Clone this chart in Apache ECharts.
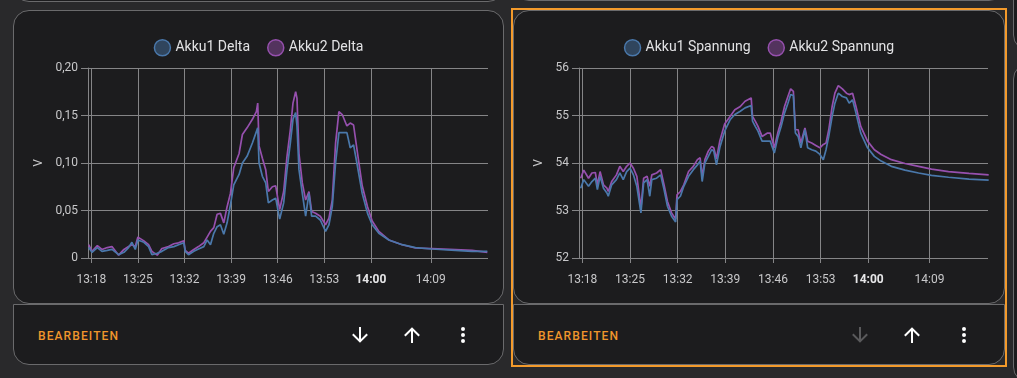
<!DOCTYPE html>
<html>
<head>
<meta charset="utf-8">
<script src="https://cdn.jsdelivr.net/npm/echarts@6/dist/echarts.min.js"></script>
<style>
body{margin:0;width:1017px;height:378px;background:#29292b;overflow:hidden;position:relative;font-family:Roboto,sans-serif}
.card{position:absolute;box-sizing:border-box;background:#1c1c1e;border:1px solid #6a6a6c;border-radius:16px}
.bar{position:absolute;box-sizing:border-box;background:#1c1c1e;border:1px solid #6a6a6c;border-radius:0 0 16px 16px}
.edit{position:absolute;left:24px;top:24px;color:#f0962c;font-size:12px;font-weight:500;letter-spacing:1.1px;line-height:14px}
.ico{position:absolute;top:18px;width:24px;height:24px}
.sel{position:absolute;left:511px;top:8px;width:496px;height:359px;box-sizing:border-box;border:2px solid #f39a2b}
.chart{position:absolute;height:293px}
</style>
</head>
<body>
<div class="card" style="left:13px;top:-100px;width:491px;height:102px"></div>
<div class="card" style="left:513px;top:-100px;width:492px;height:101px"></div>
<div class="card" style="left:1013px;top:-100px;width:200px;height:151px"></div>
<div class="card" style="left:1013px;top:63px;width:200px;height:320px"></div>

<div class="card" style="left:13px;top:10px;width:491px;height:294px"></div>
<div class="bar" style="left:13px;top:304px;width:491px;height:61px">
  <div class="edit">BEARBEITEN</div>
  <svg class="ico" style="left:334px" viewBox="0 0 24 24"><path fill="#ffffff" d="M11,4H13V16L18.5,10.5L19.92,11.92L12,19.84L4.08,11.92L5.5,10.5L11,16V4Z"/></svg>
  <svg class="ico" style="left:386px" viewBox="0 0 24 24"><path fill="#ffffff" d="M13,20H11V8L5.5,13.5L4.08,12.08L12,4.16L19.92,12.08L18.5,13.5L13,8V20Z"/></svg>
  <svg class="ico" style="left:437px" viewBox="0 0 24 24"><path fill="#ffffff" d="M12,16A2,2 0 0,1 14,18A2,2 0 0,1 12,20A2,2 0 0,1 10,18A2,2 0 0,1 12,16M12,10A2,2 0 0,1 14,12A2,2 0 0,1 12,14A2,2 0 0,1 10,12A2,2 0 0,1 12,10M12,4A2,2 0 0,1 14,6A2,2 0 0,1 12,8A2,2 0 0,1 10,6A2,2 0 0,1 12,4Z"/></svg>
</div>

<div class="sel"></div>
<div class="card" style="left:513px;top:10px;width:492px;height:294px"></div>
<div class="bar" style="left:513px;top:304px;width:492px;height:61px">
  <div class="edit">BEARBEITEN</div>
  <svg class="ico" style="left:334px" viewBox="0 0 24 24"><path fill="#5a5a5c" d="M11,4H13V16L18.5,10.5L19.92,11.92L12,19.84L4.08,11.92L5.5,10.5L11,16V4Z"/></svg>
  <svg class="ico" style="left:386px" viewBox="0 0 24 24"><path fill="#ffffff" d="M13,20H11V8L5.5,13.5L4.08,12.08L12,4.16L19.92,12.08L18.5,13.5L13,8V20Z"/></svg>
  <svg class="ico" style="left:438px" viewBox="0 0 24 24"><path fill="#ffffff" d="M12,16A2,2 0 0,1 14,18A2,2 0 0,1 12,20A2,2 0 0,1 10,18A2,2 0 0,1 12,16M12,10A2,2 0 0,1 14,12A2,2 0 0,1 12,14A2,2 0 0,1 10,12A2,2 0 0,1 12,10M12,4A2,2 0 0,1 14,6A2,2 0 0,1 12,8A2,2 0 0,1 10,6A2,2 0 0,1 12,4Z"/></svg>
</div>

<div id="deltaChart" class="chart" style="left:13px;top:10px;width:491px"></div>
<div id="voltChart" class="chart" style="left:513px;top:10px;width:492px"></div>

<script>
// minutes after 13:00
const xMin = 17.5;
const xMax = 77.6;
const timeTicks = [18, 25, 32, 39, 46, 53, 60, 69];

const deltaTimes = [17.6, 18.1, 18.9, 19.6, 20.4, 21.1, 22.1, 22.9, 23.6, 24.1, 24.6, 25.0, 25.9, 26.6, 27.1, 27.9,
    28.6, 29.6, 30.4, 31.1, 31.9, 32.1, 32.6, 33.4, 34.1, 34.9, 35.4, 35.9, 36.4, 36.9, 37.4, 37.9, 38.4, 38.9,
    39.4, 40.2, 40.7, 41.4, 42.2, 42.8, 43.0, 43.2, 43.7, 44.2, 44.6, 45.2, 45.7, 46.3, 46.9, 47.4, 47.9, 48.3,
    48.7, 48.9, 49.2, 49.7, 50.2, 50.7, 51.1, 51.7, 52.4, 53.2, 53.7, 54.2, 54.7, 55.2, 55.7, 56.4, 56.9, 57.4,
    57.9, 58.7, 59.5, 60.2, 61.2, 62.7, 64.7, 66.7, 69.2, 72.7, 75.2, 77.5];
const akku1Delta = [0.011, 0.006, 0.011, 0.007, 0.008, 0.009, 0.0035, 0.006, 0.011, 0.0165, 0.009, 0.019, 0.0165, 0.012, 0.0035, 0.005,
    0.007, 0.011, 0.012, 0.014, 0.016, 0.007, 0.0035, 0.007, 0.0095, 0.012, 0.019, 0.014, 0.026, 0.033, 0.035, 0.025, 0.037, 0.056,
    0.077, 0.088, 0.100, 0.107, 0.121, 0.133, 0.137, 0.100, 0.086, 0.079, 0.058, 0.061, 0.063, 0.041, 0.058, 0.093, 0.121, 0.146,
    0.153, 0.139, 0.093, 0.068, 0.044, 0.068, 0.044, 0.044, 0.040, 0.028, 0.035, 0.054, 0.100, 0.132, 0.132, 0.132, 0.116, 0.119,
    0.100, 0.068, 0.047, 0.035, 0.026, 0.019, 0.014, 0.011, 0.0095, 0.008, 0.007, 0.007];
const akku2Delta = [0.014, 0.007, 0.013, 0.009, 0.011, 0.012, 0.003, 0.009, 0.012, 0.014, 0.012, 0.022, 0.018, 0.014, 0.007, 0.003,
    0.010, 0.012, 0.015, 0.016, 0.018, 0.008, 0.005, 0.009, 0.012, 0.016, 0.022, 0.028, 0.032, 0.046, 0.047, 0.037, 0.054, 0.068,
    0.095, 0.110, 0.130, 0.137, 0.146, 0.154, 0.163, 0.118, 0.105, 0.093, 0.070, 0.075, 0.076, 0.051, 0.070, 0.107, 0.135, 0.163,
    0.175, 0.168, 0.110, 0.079, 0.061, 0.070, 0.049, 0.047, 0.044, 0.035, 0.042, 0.061, 0.121, 0.154, 0.151, 0.139, 0.142, 0.140,
    0.115, 0.076, 0.054, 0.039, 0.028, 0.019, 0.014, 0.0105, 0.0098, 0.0088, 0.008, 0.006];

const voltTimes = [17.75, 18.2, 18.9, 19.4, 19.9, 20.2, 20.6, 21.1, 21.6, 21.8, 22.3, 23.0, 23.5, 24.0, 24.5, 25.0, 25.5, 26.0,
    26.6, 27.0, 27.5, 27.9, 28.2, 28.9, 29.5, 30.0, 30.5, 31.1, 31.7, 31.9, 32.4, 32.9, 33.6, 34.3, 34.9, 35.3, 35.6, 36.0,
    36.5, 37.0, 37.3, 37.7, 38.2, 38.9, 39.7, 40.4, 41.2, 41.9, 42.8, 43.0, 43.4, 43.8, 44.4, 45.2, 45.6, 46.2, 46.7, 47.2,
    47.7, 48.2, 48.6, 49.0, 49.3, 49.7, 50.1, 50.7, 51.1, 51.7, 52.3, 52.9, 53.4, 53.8, 54.2, 54.7, 55.1, 55.6, 56.2, 56.8,
    57.2, 57.7, 58.2, 58.9, 59.9, 60.9, 61.9, 63.4, 65.4, 67.4, 69.3, 71.8, 74.8, 77.7];
const akku1Volt = [53.47, 53.65, 53.51, 53.61, 53.68, 53.44, 53.72, 53.47, 53.37, 53.30, 53.54, 53.65, 53.79, 53.65, 53.82, 53.89, 53.75, 53.51,
    52.95, 53.58, 53.65, 53.30, 53.65, 53.68, 53.75, 53.44, 53.09, 52.88, 52.76, 53.23, 53.30, 53.51, 53.72, 53.86, 53.96, 54.04, 53.61, 54.00,
    54.14, 54.28, 54.25, 53.96, 54.33, 54.67, 54.91, 55.02, 55.09, 55.16, 55.21, 54.88, 54.77, 54.67, 54.46, 54.46, 54.46, 54.21, 54.53, 54.77,
    55.05, 55.26, 55.44, 55.42, 54.63, 54.56, 54.32, 54.70, 54.32, 54.28, 54.25, 54.18, 54.07, 54.28, 54.56, 54.98, 55.26, 55.47, 55.40, 55.37,
    55.26, 55.33, 55.05, 54.63, 54.32, 54.14, 54.04, 53.93, 53.85, 53.79, 53.74, 53.70, 53.66, 53.64];
const akku2Volt = [53.68, 53.85, 53.68, 53.79, 53.80, 53.54, 53.82, 53.54, 53.47, 53.40, 53.61, 53.75, 53.93, 53.82, 53.93, 54.00, 53.89, 53.72,
    53.05, 53.68, 53.72, 53.51, 53.75, 53.79, 53.86, 53.54, 53.19, 52.95, 52.82, 53.33, 53.40, 53.54, 53.82, 53.93, 54.07, 54.11, 53.72, 54.07,
    54.25, 54.35, 54.32, 54.09, 54.47, 54.82, 54.98, 55.12, 55.19, 55.30, 55.37, 54.98, 54.88, 54.77, 54.56, 54.63, 54.63, 54.32, 54.63, 54.88,
    55.19, 55.40, 55.56, 55.51, 54.70, 54.70, 54.42, 54.74, 54.46, 54.42, 54.37, 54.32, 54.39, 54.42, 54.70, 55.19, 55.47, 55.63, 55.56, 55.47,
    55.44, 55.47, 55.19, 54.77, 54.46, 54.28, 54.18, 54.07, 53.99, 53.93, 53.87, 53.82, 53.78, 53.75];

const blue = '#4a78ab';
const purple = '#9650ae';
const gridColor = '#858587';
const labelColor = '#c8c8ca';

function timeLabel(v) {
    const h = 13 + Math.floor(v / 60);
    const m = Math.round(v % 60);
    const s = h + ':' + (m < 10 ? '0' : '') + m;
    return m === 0 ? '{b|' + s + '}' : s;
}

function pairs(times, vals) {
    return times.map((t, i) => [t, vals[i]]);
}

function makeOption(names, times, vals1, vals2, yCfg, gridLeft, gridRight, nameGap) {
    return {
        animation: false,
        legend: {
            top: 24,
            left: 'center',
            icon: 'circle',
            itemWidth: 16,
            itemHeight: 16,
            itemGap: 17,
            textStyle: { color: '#e2e2e4', fontSize: 14, fontFamily: 'Roboto' },
            data: [
                { name: names[0], itemStyle: { color: 'rgba(74,120,171,0.45)', borderColor: blue, borderWidth: 1.5 } },
                { name: names[1], itemStyle: { color: 'rgba(150,80,174,0.45)', borderColor: purple, borderWidth: 1.5 } }
            ]
        },
        grid: { left: gridLeft, right: gridRight, top: 58, bottom: 45 },
        xAxis: {
            type: 'value',
            min: xMin,
            max: xMax,
            axisLine: { show: false },
            axisTick: { show: true, length: 5, customValues: timeTicks, lineStyle: { color: gridColor } },
            splitLine: { show: true, lineStyle: { color: gridColor, width: 1 } },
            axisLabel: {
                customValues: timeTicks,
                margin: 16,
                color: labelColor,
                fontSize: 12,
                fontFamily: 'Roboto',
                formatter: timeLabel,
                rich: { b: { fontWeight: 'bold', color: '#e6e6e8', fontSize: 12, fontFamily: 'Roboto' } }
            }
        },
        yAxis: {
            type: 'value',
            min: yCfg.min,
            max: yCfg.max,
            interval: yCfg.interval,
            name: 'V',
            nameLocation: 'middle',
            nameRotate: 90,
            nameGap: nameGap,
            nameTextStyle: { color: labelColor, fontSize: 12, fontFamily: 'Roboto' },
            axisLine: { show: true, lineStyle: { color: gridColor } },
            axisTick: { show: true, length: 7, lineStyle: { color: gridColor } },
            splitLine: { show: true, lineStyle: { color: gridColor, width: 1 } },
            axisLabel: { margin: 10, color: labelColor, fontSize: 12, fontFamily: 'Roboto', formatter: yCfg.fmt }
        },
        series: [
            { name: names[0], type: 'line', z: 3, showSymbol: false, color: blue,
              lineStyle: { width: 1.7, color: blue }, data: pairs(times, vals1) },
            { name: names[1], type: 'line', z: 2, showSymbol: false, color: purple,
              lineStyle: { width: 1.7, color: purple }, data: pairs(times, vals2) }
        ]
    };
}

const deltaChart = echarts.init(document.getElementById('deltaChart'));
deltaChart.setOption(makeOption(['Akku1 Delta', 'Akku2 Delta'], deltaTimes, akku1Delta, akku2Delta, {
    min: 0, max: 0.2, interval: 0.05,
    fmt: v => v === 0 ? '0' : v.toFixed(2).replace('.', ',')
}, 75, 16, 41));

const voltChart = echarts.init(document.getElementById('voltChart'));
voltChart.setOption(makeOption(['Akku1 Spannung', 'Akku2 Spannung'], voltTimes, akku1Volt, akku2Volt, {
    min: 52, max: 56, interval: 1,
    fmt: v => String(v)
}, 66, 17, 34));
</script>
</body>
</html>
